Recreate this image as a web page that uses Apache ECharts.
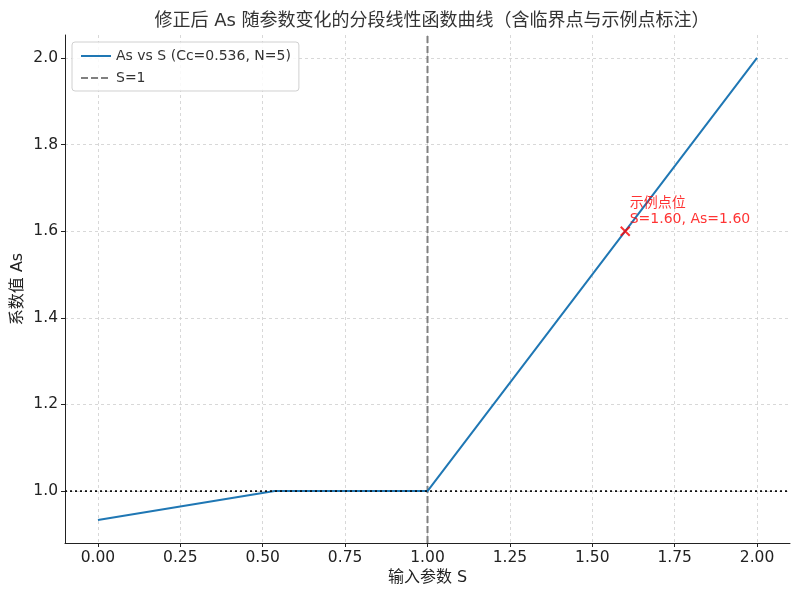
<!DOCTYPE html>
<html>
<head>
<meta charset="utf-8">
<script src="https://cdn.jsdelivr.net/npm/echarts@6/dist/echarts.min.js"></script>
<style>html,body{margin:0;padding:0;background:#fff}#c{width:800px;height:597px}</style>
</head>
<body>
<div id="c"></div>
<script>
// ---- data ----
const curveS = [0.0, 0.536, 1.0, 2.0];
const curveAs = [0.933, 1.0, 1.0, 2.0];
const sampleS = 1.6;
const sampleAs = 1.6;
const xTicks = [0.0, 0.25, 0.5, 0.75, 1.0, 1.25, 1.5, 1.75, 2.0];
const yTicks = [1.0, 1.2, 1.4, 1.6, 1.8, 2.0];
const refS = 1.0;
const refAs = 1.0;
const titleText = '修正后 As 随参数变化的分段线性函数曲线（含临界点与示例点标注）';
const xName = '输入参数 S';
const yName = '系数值 As';
const seriesName = 'As vs S (Cc=0.536, N=5)';
const refName = 'S=1';
const sampleLabel = '示例点位';

const xMin = -0.1, xMax = 2.1, yMin = 0.88, yMax = 2.053;
const font = 'DejaVu Sans, Noto Sans CJK SC, sans-serif';

const chart = echarts.init(document.getElementById('c'), null, {renderer: 'canvas'});
const gridLine = {show: true, lineStyle: {color: '#cfcfcf', type: [3, 3], width: 0.8}};
chart.setOption({
  animation: false,
  backgroundColor: '#fff',
  textStyle: {fontFamily: font},
  title: {
    text: titleText, left: 427, top: 7, textAlign: 'center',
    textStyle: {fontFamily: font, fontSize: 18, fontWeight: 'normal', color: '#333'}
  },
  grid: {left: 65, right: 10, top: 35, bottom: 54, containLabel: false, outerBoundsMode: 'none'},
  legend: {
    left: 72, top: 42, orient: 'vertical',
    data: [seriesName, refName],
    itemWidth: 30, itemHeight: 10, itemGap: 8,
    padding: [7, 8, 6, 8],
    borderColor: '#d0d0d0', borderWidth: 1, borderRadius: 3,
    backgroundColor: 'rgba(255,255,255,0.85)',
    itemStyle: {color: 'rgba(0,0,0,0)', borderWidth: 0, opacity: 0},
    textStyle: {fontFamily: font, fontSize: 14, color: '#333'}
  },
  xAxis: {
    type: 'value', min: xMin, max: xMax,
    name: xName, nameLocation: 'middle', nameGap: 27, nameMoveOverlap: false,
    nameTextStyle: {fontFamily: font, fontSize: 16, color: '#222'},
    axisLine: {show: true, onZero: false, lineStyle: {color: '#222', width: 1}},
    axisTick: {show: true, customValues: xTicks, length: 4, lineStyle: {color: '#222'}},
    axisLabel: {customValues: xTicks, formatter: v => v.toFixed(2), fontFamily: font, fontSize: 15.5, color: '#222', margin: 7},
    splitLine: gridLine
  },
  yAxis: {
    type: 'value', min: yMin, max: yMax,
    name: yName, nameLocation: 'middle', nameGap: 39, nameMoveOverlap: false,
    nameTextStyle: {fontFamily: font, fontSize: 16, color: '#222'},
    axisLine: {show: true, onZero: false, lineStyle: {color: '#222', width: 1}},
    axisTick: {show: true, customValues: yTicks, length: 4, lineStyle: {color: '#222'}},
    axisLabel: {customValues: yTicks, formatter: v => v.toFixed(1), fontFamily: font, fontSize: 15.5, color: '#222', margin: 7},
    splitLine: gridLine
  },
  series: [
    {
      name: seriesName, type: 'line', symbol: 'none',
      data: curveS.map((s, i) => [s, curveAs[i]]),
      lineStyle: {color: '#1f77b4', width: 2}, itemStyle: {color: '#1f77b4'}, z: 3
    },
    {
      name: refName, type: 'line', symbol: 'none',
      data: [[refS, yMin], [refS, yMax]],
      lineStyle: {color: '#808080', width: 2, type: [7, 3]}, itemStyle: {color: '#808080'}, z: 2
    },
    {
      name: 'ref1', type: 'line', symbol: 'none',
      data: [[xMin, refAs], [xMax, refAs]],
      lineStyle: {color: '#111', width: 1.8, type: [2, 3]}, z: 4
    },
    {
      name: 'sample', type: 'scatter',
      symbol: 'path://M0,0L10,10M10,0L0,10', symbolSize: 9,
      data: [[sampleS, sampleAs]],
      itemStyle: {color: 'rgba(0,0,0,0)', borderColor: '#ff0000', borderWidth: 2},
      label: {
        show: true, position: 'right', distance: 0, offset: [-1, -20],
        formatter: sampleLabel + '\n' + 'S=' + sampleS.toFixed(2) + ', As=' + sampleAs.toFixed(2),
        align: 'left', verticalAlign: 'middle', lineHeight: 16,
        fontFamily: font, fontSize: 14, color: '#ff0000'
      },
      z: 5
    }
  ]
});
</script>
</body>
</html>
